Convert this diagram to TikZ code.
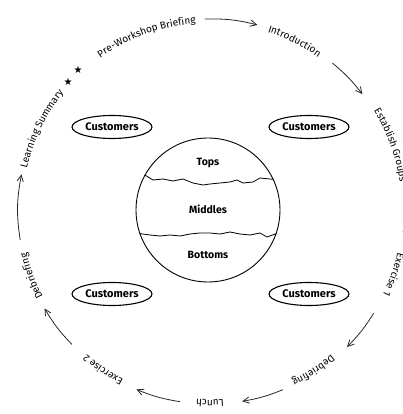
\documentclass[tikz,border=0pt]{standalone}
\usepackage{fontspec}
\setmainfont{Fira Sans}
\newfontfamily\starfont{DejaVu Sans}
\usetikzlibrary{arrows.meta,shapes.geometric,decorations.text}

\newcommand{\ringfont}{\fontsize{10}{12}\selectfont}
\newcommand{\steplabel}[3][188]{%
  \path[decorate,decoration={text along path,text align=center,
    text={|\ringfont|#3}}]
    ({#2+30}:#1) arc[start angle={#2+30},end angle={#2-30},radius=#1];}

\begin{document}
\begin{tikzpicture}[
  x=1pt,y=1pt,
  cust/.style={ellipse,draw,line width=1.1pt,minimum width=80pt,minimum height=23pt,inner sep=0pt,font=\fontsize{11}{13}\selectfont\bfseries},
  globe/.style={circle,draw,line width=0.9pt,minimum size=144pt,inner sep=0pt},
  layer/.style={font=\fontsize{10.5}{12}\selectfont\bfseries},
  starmark/.style={font=\starfont\fontsize{10}{10}\selectfont,inner sep=0pt},
  flow/.style={-{Straight Barb[length=2.2mm,width=2.2mm]},draw=black!85,line width=0.8pt},
  tear/.style={draw,line width=0.8pt,line join=round},
]
\useasboundingbox (-210,-203) rectangle (192,211);

\node[globe] (globe) at (-2,1) {};
\node[layer] (tops) at (-2,48) {Tops};
\node[layer] (middles) at (-2,2) {Middles};
\node[layer] (bottoms) at (-2,-44) {Bottoms};

\draw[tear] (globe.151) -- (-57,31) -- (-47,32) -- (-37,30) -- (-27,32) -- (-22,30) -- (-17,28)
  -- (-7,26) -- (0,27) -- (10,28) -- (20,29) -- (27,31) -- (33,28) -- (43,29) -- (50,33) -- (globe.25);
\draw[tear] (globe.199) -- (-60,-24) -- (-50,-25) -- (-40,-24) -- (-30,-25) -- (-20,-23) -- (-10,-22)
  -- (0,-22) -- (10,-23) -- (20,-21) -- (30,-23) -- (40,-24) -- (50,-22) -- (57,-26) -- (globe.341);

\node[cust] (custNW) at (-98,84) {Customers};
\node[cust] (custNE) at (99,84) {Customers};
\node[cust] (custSW) at (-98,-83) {Customers};
\node[cust] (custSE) at (99,-83) {Customers};

\node[starmark] (star1) at (-142,129) {★};
\node[starmark] (star2) at (-132,141) {★};

\steplabel{110}{Pre-Workshop Briefing}
\steplabel{63.5}{Introduction}
\steplabel[192]{20}{Establish Groups}
\steplabel[192]{-19}{Exercise 1}
\steplabel{-57}{Debriefing}
\steplabel[189]{-90}{Lunch}
\steplabel[189]{-124}{Exercise 2}
\steplabel{-160}{Debriefing}
\steplabel{154}{Learning Summary}

\foreach \s/\e/\r [count=\i] in {91.5/75.7/192,50.4/37.5/192,3/-8/197,-32/-44.8/193,-67.8/-80.4/193,-99/-112.4/193,-136/-149.5/192,-171.3/-191/192}
{
  \pgfmathsetmacro\bend{(\s-\e)/2}
  \coordinate (from\i) at (\s:\r);
  \coordinate (to\i) at (\e:\r);
  \draw[flow] (from\i) to[bend left=\bend] (to\i);
}
\end{tikzpicture}
\end{document}
